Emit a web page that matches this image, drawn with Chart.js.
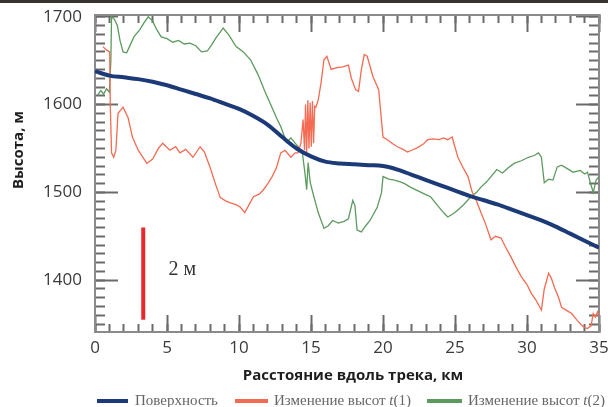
<!DOCTYPE html>
<html>
<head>
<meta charset="utf-8">
<script src="https://cdn.jsdelivr.net/npm/chart.js@4.4.1/dist/chart.umd.min.js"></script>
<style>
  html, body { margin: 0; padding: 0; background: #fff; }
</style>
</head>
<body>
<canvas id="c" width="608" height="407"></canvas>
<script>
// Surface elevation along the track (km, m)
const surfaceKm = [0, 1, 2, 3, 4, 5, 6, 7, 8, 9,
  10, 11, 12, 13, 14, 15, 16, 17, 18, 19,
  20, 21, 22, 23, 24, 25, 26, 27, 28, 29,
  30, 31, 32, 33, 34, 35];
const surfaceHeight = [1638, 1633, 1631, 1629, 1626, 1622, 1617, 1612, 1607, 1601,
  1595, 1587, 1577, 1563, 1550, 1541, 1535, 1533, 1532, 1531,
  1530, 1526, 1520, 1514, 1508, 1502, 1496, 1491, 1486, 1480,
  1474, 1468, 1461, 1453, 1445, 1437];

// Elevation change t(1)
const t1Km = [0.55, 0.8, 1.02, 1.06, 1.15, 1.3, 1.45, 1.6, 1.95, 2.3,
  2.6, 3.0, 3.6, 4.0, 4.4, 4.7, 5.2, 5.6, 5.9, 6.3,
  6.8, 7.3, 7.6, 8.0, 8.4, 8.7, 9.1, 9.4, 9.8, 10.1,
  10.4, 10.7, 11.0, 11.4, 11.7, 12.0, 12.3, 12.6, 12.9, 13.2,
  13.6, 13.9, 14.1, 14.3, 14.45, 14.55, 14.62, 14.7, 14.78, 14.86,
  14.94, 15.02, 15.1, 15.18, 15.26, 15.34, 15.5, 15.7, 15.9, 16.1,
  16.4, 16.8, 17.2, 17.6, 17.8, 18.1, 18.3, 18.5, 18.7, 18.9,
  19.3, 19.7, 19.85, 20.0, 20.3, 20.7, 21.0, 21.4, 21.7, 22.0,
  22.4, 22.8, 23.1, 23.5, 23.9, 24.2, 24.5, 24.8, 25.2, 25.5,
  25.9, 26.2, 26.5, 26.8, 27.1, 27.5, 27.8, 28.2, 28.5, 28.9,
  29.2, 29.6, 30.0, 30.3, 30.6, 31.0, 31.2, 31.5, 31.7, 31.9,
  32.2, 32.4, 32.8, 33.1, 33.5, 33.9, 34.2, 34.45, 34.6, 34.75,
  34.9, 35.0];
const t1Height = [1666, 1662, 1660, 1600, 1545, 1540, 1548, 1590, 1597, 1585,
  1563, 1548, 1533, 1538, 1550, 1556, 1548, 1552, 1545, 1549,
  1540, 1552, 1546, 1528, 1508, 1494, 1490, 1488, 1486, 1483,
  1477, 1486, 1495, 1498, 1503, 1510, 1518, 1528, 1545, 1548,
  1540, 1545, 1545, 1556, 1583, 1548, 1600, 1546, 1605, 1550,
  1602, 1552, 1604, 1556, 1598, 1597, 1605, 1625, 1651, 1655,
  1640, 1642, 1643, 1645, 1630, 1617, 1615, 1640, 1657, 1655,
  1632, 1617, 1590, 1563, 1560, 1555, 1552, 1549, 1546, 1548,
  1551, 1555, 1560, 1561, 1560, 1562, 1560, 1563, 1540, 1530,
  1518, 1500, 1490, 1477, 1465, 1446, 1450, 1448, 1438, 1426,
  1416, 1404, 1395, 1385, 1378, 1366, 1390, 1408, 1402, 1392,
  1380, 1369, 1365, 1362, 1354, 1347, 1345, 1348, 1362, 1358,
  1364, 1360];

// Elevation change t(2)
const t2Km = [0.2, 0.4, 0.6, 0.8, 1.0, 1.1, 1.15, 1.35, 1.55, 1.75,
  1.95, 2.2, 2.45, 2.7, 3.1, 3.4, 3.7, 4.0, 4.3, 4.6,
  5.0, 5.4, 5.8, 6.2, 6.6, 7.0, 7.4, 7.8, 8.1, 8.4,
  8.9, 9.3, 9.8, 10.3, 10.8, 11.3, 11.8, 12.2, 12.6, 12.9,
  13.3, 13.6, 13.9, 14.2, 14.4, 14.55, 14.7, 14.8, 14.95, 15.2,
  15.5, 15.9, 16.2, 16.5, 16.9, 17.3, 17.6, 17.9, 18.05, 18.2,
  18.5, 18.8, 19.1, 19.6, 19.9, 20.0, 20.4, 20.8, 21.2, 21.5,
  21.9, 22.4, 22.9, 23.3, 23.8, 24.2, 24.5, 24.9, 25.2, 25.6,
  26.1, 26.5, 26.8, 27.2, 27.5, 27.9, 28.3, 28.7, 29.1, 29.6,
  30.1, 30.5, 30.8, 31.0, 31.2, 31.5, 31.8, 32.1, 32.4, 32.8,
  33.2, 33.7, 34.0, 34.2, 34.4, 34.6, 34.8, 35.0];
const t2Height = [1611, 1616, 1612, 1618, 1614, 1650, 1700, 1697, 1690, 1672,
  1660, 1659, 1668, 1677, 1685, 1693, 1700, 1695, 1685, 1677,
  1675, 1671, 1673, 1669, 1670, 1667, 1660, 1661, 1668, 1676,
  1687, 1679, 1666, 1660, 1651, 1635, 1615, 1600, 1585, 1575,
  1557, 1562, 1556, 1550, 1545, 1526, 1503, 1534, 1511, 1495,
  1477, 1459, 1462, 1468, 1465, 1467, 1470, 1491, 1485, 1457,
  1455, 1462, 1468, 1483, 1500, 1518, 1515, 1514, 1512, 1510,
  1506, 1502, 1498, 1495, 1485, 1477, 1472, 1476, 1480, 1486,
  1495, 1500, 1506, 1512, 1518, 1526, 1522, 1528, 1533, 1536,
  1540, 1542, 1545, 1540, 1511, 1515, 1514, 1529, 1531, 1527,
  1523, 1525, 1521, 1523, 1511, 1500, 1514, 1518];

// Vertical scale bar (2 m of elevation change)
const scaleBarKm = [3.35, 3.35];
const scaleBarHeight = [1355, 1460];
const scaleBarLabel = '2 м';

const xTickLabels = [0, 5, 10, 15, 20, 25, 30, 35];
const yTickLabels = [1400, 1500, 1600, 1700];

const seriesNames = ['Поверхность', 'Изменение высот t(1)', 'Изменение высот t(2)'];

const X_MIN = 0, X_MAX = 35, Y_MIN = 1341, Y_MAX = 1702;

const pts = (xs, ys) => xs.map((x, i) => ({ x: x, y: ys[i] }));

// Minor tick positions: every km along x, every 10 m along y
const xMinorTicks = [];
for (let k = X_MIN; k <= X_MAX; k++) xMinorTicks.push(k);
const yMinorTicks = [];
for (let v = 1350; v <= 1700; v += 10) yMinorTicks.push(v);

const FRAME = '#8a8a8a', TICK = '#6a6a6a';
const labelFont = { family: 'Open Sans', size: 17 };

// Axis with inward tick marks only (negative tick length), optional frame border
function tickAxis(position, values, len, weight, withBorder) {
  const horizontal = position === 'top' || position === 'bottom';
  return {
    type: 'linear', position: position, weight: weight,
    min: horizontal ? X_MIN : Y_MIN, max: horizontal ? X_MAX : Y_MAX,
    grid: { display: true, drawOnChartArea: false, drawTicks: true,
            tickLength: -len, tickColor: TICK, tickWidth: 2 },
    border: { display: withBorder, color: FRAME, width: 2 },
    ticks: { display: false, autoSkip: false },
    afterBuildTicks: s => { s.ticks = values.map(v => ({ value: v })); },
    afterFit: s => {
      if (horizontal) { s.height = 0; s.paddingLeft = 0; s.paddingRight = 0; }
      else { s.width = 0; s.paddingTop = 0; s.paddingBottom = 0; }
    }
  };
}

// Scale-bar label, axis titles, legend row and the dark strip along the top edge
const annotations = {
  id: 'annotations',
  afterDraw(chart) {
    const ctx = chart.ctx;
    const xs = chart.scales.x, ys = chart.scales.y;
    ctx.save();
    ctx.fillStyle = '#333';
    ctx.font = '20px "Liberation Serif"';
    ctx.textBaseline = 'middle';
    ctx.textAlign = 'left';
    ctx.fillText(scaleBarLabel, xs.getPixelForValue(5.1), ys.getPixelForValue(1412));

    ctx.fillStyle = '#1e1e1e';
    ctx.font = 'bold 15px "Open Sans"';
    ctx.textAlign = 'center';
    ctx.fillText('Расстояние вдоль трека, км', 353, 376);
    ctx.save();
    ctx.translate(19, 150);
    ctx.rotate(-Math.PI / 2);
    ctx.fillText('Высота, м', 0, 0);
    ctx.restore();

    const ds = chart.data.datasets;
    const sw = [[97, 128, 135], [235, 268, 274], [427, 462, 468]];
    const ly = 401;
    ctx.textAlign = 'left';
    for (let i = 0; i < 3; i++) {
      ctx.fillStyle = ds[i].borderColor;
      ctx.fillRect(sw[i][0], ly - 2, sw[i][1] - sw[i][0], 4);
      ctx.fillStyle = '#666';
      const name = seriesNames[i];
      const m = name.match(/^(.*)t(\(\d\))$/);
      let x = sw[i][2];
      if (m) {
        ctx.font = '15px "Liberation Serif"';
        ctx.fillText(m[1], x, ly); x += ctx.measureText(m[1]).width;
        ctx.font = 'italic 15px "Liberation Serif"';
        ctx.fillText('t', x, ly); x += ctx.measureText('t').width;
        ctx.font = '15px "Liberation Serif"';
        ctx.fillText(m[2], x, ly);
      } else {
        ctx.font = '15px "Liberation Serif"';
        ctx.fillText(name, x, ly);
      }
    }
    ctx.fillStyle = '#37332f';
    ctx.fillRect(0, 0, chart.width, 3);
    ctx.restore();
  }
};

new Chart(document.getElementById('c'), {
  type: 'line',
  data: {
    datasets: [
      { label: seriesNames[0], data: pts(surfaceKm, surfaceHeight), borderColor: '#1c3a78',
        borderWidth: 4, pointRadius: 0, cubicInterpolationMode: 'monotone' },
      { label: seriesNames[1], data: pts(t1Km, t1Height), borderColor: '#f26b52',
        borderWidth: 1.3, pointRadius: 0, tension: 0 },
      { label: seriesNames[2], data: pts(t2Km, t2Height), borderColor: '#5c9a5e',
        borderWidth: 1.3, pointRadius: 0, tension: 0 },
      { label: scaleBarLabel, data: pts(scaleBarKm, scaleBarHeight), borderColor: '#e8282c',
        borderWidth: 4, pointRadius: 0, borderCapStyle: 'butt' }
    ]
  },
  options: {
    responsive: false,
    animation: false,
    layout: { padding: { left: 0, right: 9, top: 15, bottom: 0 } },
    plugins: { legend: { display: false }, tooltip: { enabled: false } },
    scales: {
      x: {
        type: 'linear', position: 'bottom', weight: 1, min: X_MIN, max: X_MAX,
        grid: { display: true, drawOnChartArea: false, drawTicks: true,
                tickLength: -17, tickColor: TICK, tickWidth: 2 },
        border: { display: true, color: FRAME, width: 2 },
        ticks: { padding: 23, color: '#3a3a3a', font: labelFont, autoSkip: false,
                 maxRotation: 0, callback: v => String(v) },
        afterBuildTicks: s => { s.ticks = xTickLabels.map(v => ({ value: v })); },
        afterFit: s => { s.height = 75; s.paddingLeft = 0; s.paddingRight = 0; }
      },
      xMinor: tickAxis('bottom', xMinorTicks, 8, 0, false),
      xTop: tickAxis('top', xTickLabels, 17, 1, true),
      xTopMinor: tickAxis('top', xMinorTicks, 8, 0, false),
      y: {
        type: 'linear', position: 'left', weight: 1, min: Y_MIN, max: Y_MAX,
        grid: { display: true, drawOnChartArea: false, drawTicks: true,
                tickLength: -23, tickColor: TICK, tickWidth: 2 },
        border: { display: true, color: FRAME, width: 2 },
        ticks: { padding: 36, color: '#3a3a3a', font: labelFont, autoSkip: false,
                 callback: v => String(v) },
        afterBuildTicks: s => { s.ticks = yTickLabels.map(v => ({ value: v })); },
        afterFit: s => { s.width = 95; s.paddingTop = 0; s.paddingBottom = 0; }
      },
      yMinor: tickAxis('left', yMinorTicks, 10, 0, false),
      yRight: tickAxis('right', yTickLabels, 23, 1, true),
      yRightMinor: tickAxis('right', yMinorTicks, 10, 0, false)
    }
  },
  plugins: [annotations]
});
</script>
</body>
</html>
